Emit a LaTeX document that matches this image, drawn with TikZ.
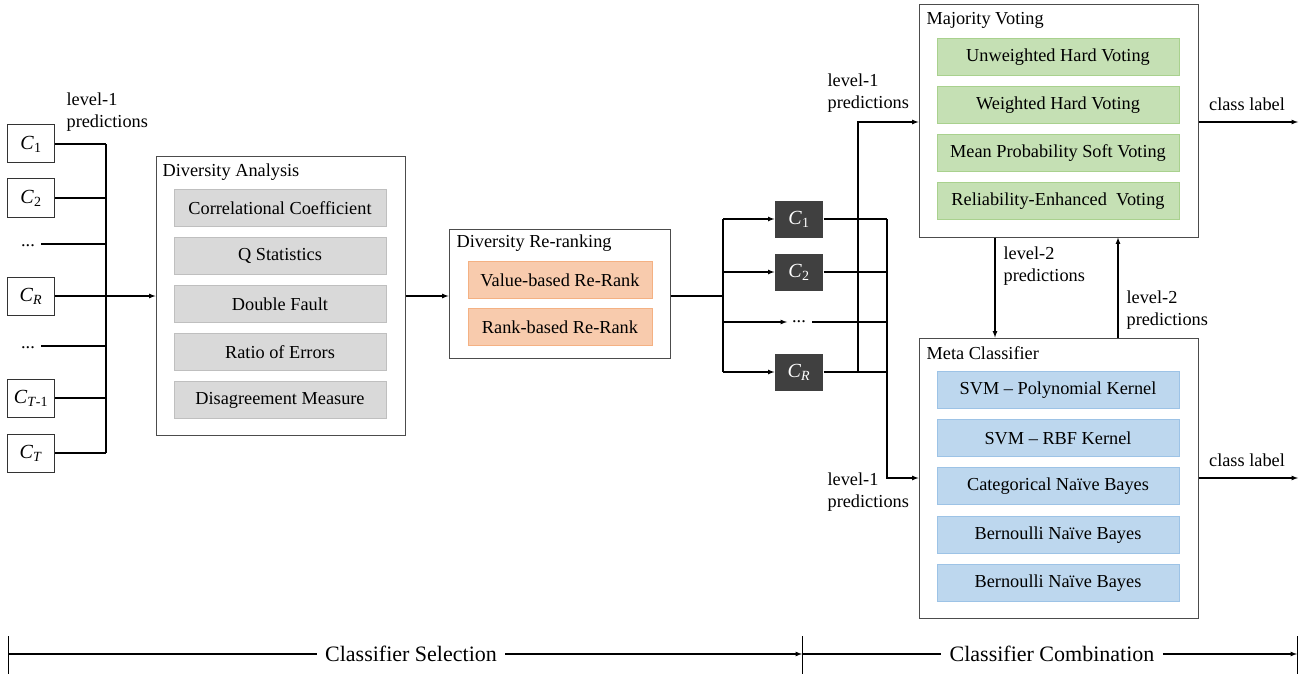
\documentclass[tikz,border=0pt]{standalone}
\usepackage{fontspec}
\setmainfont{Liberation Serif}
\usetikzlibrary{arrows}
\definecolor{metricfill}{HTML}{D9D9D9}
\definecolor{metricline}{HTML}{BFBFBF}
\definecolor{rankfill}{HTML}{F8CBAD}
\definecolor{rankline}{HTML}{F4B183}
\definecolor{votefill}{HTML}{C5E0B4}
\definecolor{voteline}{HTML}{A9D18E}
\definecolor{metafill}{HTML}{BDD7EE}
\definecolor{metaline}{HTML}{9DC3E6}
\definecolor{pickfill}{HTML}{404040}

\begin{document}
\begin{tikzpicture}[x=1pt,y=-1pt,>=latex,line width=1.2pt,
    every node/.style={font=\fontsize{18.3}{22}\selectfont},
    frame/.style={draw=black!70,line width=1pt,fill=white},
    title/.style={anchor=west,inner sep=0pt},
    lbl/.style={align=left,inner sep=0pt},
    clf/.style={draw=black!80,line width=1pt,minimum width=47pt,minimum height=38pt,inner sep=0pt,font=\fontsize{20}{22}\selectfont},
    pick/.style={fill=pickfill,text=white,minimum width=48pt,minimum height=37pt,inner sep=0pt,font=\fontsize{20}{22}\selectfont},
    metric/.style={draw=metricline,fill=metricfill,line width=1pt,minimum width=212pt,minimum height=37pt,inner sep=0pt},
    rerank/.style={draw=rankline,fill=rankfill,line width=1pt,minimum width=184pt,minimum height=37pt,inner sep=0pt},
    vote/.style={draw=voteline,fill=votefill,line width=1pt,minimum width=242pt,minimum height=37pt,inner sep=0pt},
    meta/.style={draw=metaline,fill=metafill,line width=1pt,minimum width=242pt,minimum height=37pt,inner sep=0pt}]
  \useasboundingbox (0,0) rectangle (1299,674);

  \node[clf] (c1) at (31,144) {\textit{C}\textsubscript{1}};
  \node[clf] (c2) at (31,198) {\textit{C}\textsubscript{2}};
  \node[inner sep=0pt] (dots1) at (28,246) {...};
  \node[clf] (cr) at (31,296) {\textit{C}\textsubscript{\textit{R}}};
  \node[inner sep=0pt] (dots2) at (28,348) {...};
  \node[clf] (ct1) at (31,398) {\textit{C}\textsubscript{\textit{T}-1}};
  \node[clf] (ct) at (31,453) {\textit{C}\textsubscript{\textit{T}}};
  \node[lbl,anchor=west] (lvla) at (66,112) {level-1\\predictions};
  \coordinate (lbtop) at (106,144);
  \coordinate (lbbot) at (106,453);

  \node[frame,minimum width=249pt,minimum height=279pt] (divan) at (280.5,296) {};
  \node[title] (divant) at (162,172) {Diversity Analysis};
  \node[metric] (m1) at (280,208) {Correlational Coefficient};
  \node[metric] (m2) at (280,256) {Q Statistics};
  \node[metric] (m3) at (280,304) {Double Fault};
  \node[metric] (m4) at (280,352) {Ratio of Errors};
  \node[metric] (m5) at (280,400) {Disagreement Measure};

  \node[frame,minimum width=221pt,minimum height=129pt] (divre) at (559.5,293.5) {};
  \node[title] (divret) at (456,243) {Diversity Re-ranking};
  \node[rerank] (r1) at (560,280) {Value-based Re-Rank};
  \node[rerank] (r2) at (560,327) {Rank-based Re-Rank};

  \coordinate (mbtop) at (723,219);
  \coordinate (mbbot) at (723,372);
  \node[pick] (s1) at (799,219) {\textit{C}\textsubscript{1}};
  \node[pick] (s2) at (799,272) {\textit{C}\textsubscript{2}};
  \node[minimum width=48pt,inner sep=0pt] (sdots) at (799,322) {...};
  \node[pick] (sr) at (799,372) {\textit{C}\textsubscript{\textit{R}}};
  \coordinate (rbus) at (887,219);
  \coordinate (vbus) at (858,122);

  \node[frame,minimum width=279pt,minimum height=232pt] (major) at (1058.5,121) {};
  \node[title] (majort) at (926,20) {Majority Voting};
  \node[vote] (v1) at (1058,57) {Unweighted Hard Voting};
  \node[vote] (v2) at (1058,105) {Weighted Hard Voting};
  \node[vote] (v3) at (1058,153) {Mean Probability Soft Voting};
  \node[vote] (v4) at (1058,201) {Reliability-Enhanced~ Voting};

  \node[frame,minimum width=279pt,minimum height=280pt] (metac) at (1058.5,478) {};
  \node[title] (metact) at (926,353) {Meta Classifier};
  \node[meta] (k1) at (1058,390) {SVM -- Polynomial Kernel};
  \node[meta] (k2) at (1058,438) {SVM -- RBF Kernel};
  \node[meta] (k3) at (1058,486) {Categorical Naïve Bayes};
  \node[meta] (k4) at (1058,535) {Bernoulli Naïve Bayes};
  \node[meta] (k5) at (1058,583) {Bernoulli Naïve Bayes};

  \node[lbl,anchor=west] (lvlb) at (827,93) {level-1\\predictions};
  \node[lbl,anchor=west] (lvlc) at (827,492) {level-1\\predictions};
  \node[lbl,anchor=west] (lvld) at (1003,266) {level-2\\predictions};
  \node[lbl,anchor=west] (lvle) at (1126,310) {level-2\\predictions};
  \node[inner sep=0pt] (outa) at (1247,104) {class label};
  \node[inner sep=0pt] (outb) at (1247,460) {class label};
  \coordinate (enda) at (1298,122);
  \coordinate (endb) at (1298,478);

  \draw (c1.east) -- (c1.east -| lbtop)
        (c2.east) -- (c2.east -| lbtop)
        ([xshift=6pt]dots1.east |- 0,244) -- (lbtop |- 0,244)
        ([xshift=6pt]dots2.east |- 0,346) -- (lbtop |- 0,346)
        (ct1.east) -- (ct1.east -| lbtop)
        (ct.east) -- (ct.east -| lbtop)
        (lbtop) -- (lbbot);
  \draw[->] (cr.east) -- (divan.west |- cr.east);
  \draw[->] (divan.east) -- (divre.west |- divan.east);
  \draw (divre.east |- 0,296) -- (mbtop |- 0,296) (mbtop) -- (mbbot);
  \draw[->] (mbtop) -- (s1.west);
  \draw[->] (mbtop |- s2) -- (s2.west);
  \draw[->] (mbtop |- sdots) -- ([xshift=-12pt]sdots.center);
  \draw[->] (mbbot) -- (sr.west);
  \draw (s1.east) -- (rbus) (s2.east) -- (rbus |- s2)
        ([xshift=13pt]sdots.center) -- (rbus |- sdots) (sr.east) -- (rbus |- sr);
  \draw[->] (rbus) -- (rbus |- metac) -- (metac.west);
  \draw[->] (vbus |- sr) -- (vbus) -- (major.west |- vbus);
  \draw[->] (major.south -| 995,0) -- (metac.north -| 995,0);
  \draw[->] (metac.north -| 1118,0) -- (major.south -| 1118,0);
  \draw[->] (major.east |- enda) -- (enda);
  \draw[->] (metac.east |- endb) -- (endb);

  \node[inner sep=0pt,font=\fontsize{22}{24}\selectfont] (sel) at (411,654) {Classifier Selection};
  \node[inner sep=0pt,font=\fontsize{22}{24}\selectfont] (comb) at (1052,654) {Classifier Combination};
  \coordinate (ta) at (8,654);
  \coordinate (tb) at (802,654);
  \coordinate (tc) at (1297,654);
  \draw[line width=1pt] ([yshift=-22pt]ta) -- ([yshift=18pt]ta)
        ([yshift=-22pt]tb) -- ([yshift=18pt]tb)
        ([yshift=-22pt]tc) -- ([yshift=18pt]tc);
  \draw (ta) -- ([xshift=-8pt]sel.west);
  \draw[->] ([xshift=8pt]sel.east) -- (tb);
  \draw (tb) -- ([xshift=-8pt]comb.west);
  \draw[->] ([xshift=8pt]comb.east) -- (tc);
\end{tikzpicture}
\end{document}
